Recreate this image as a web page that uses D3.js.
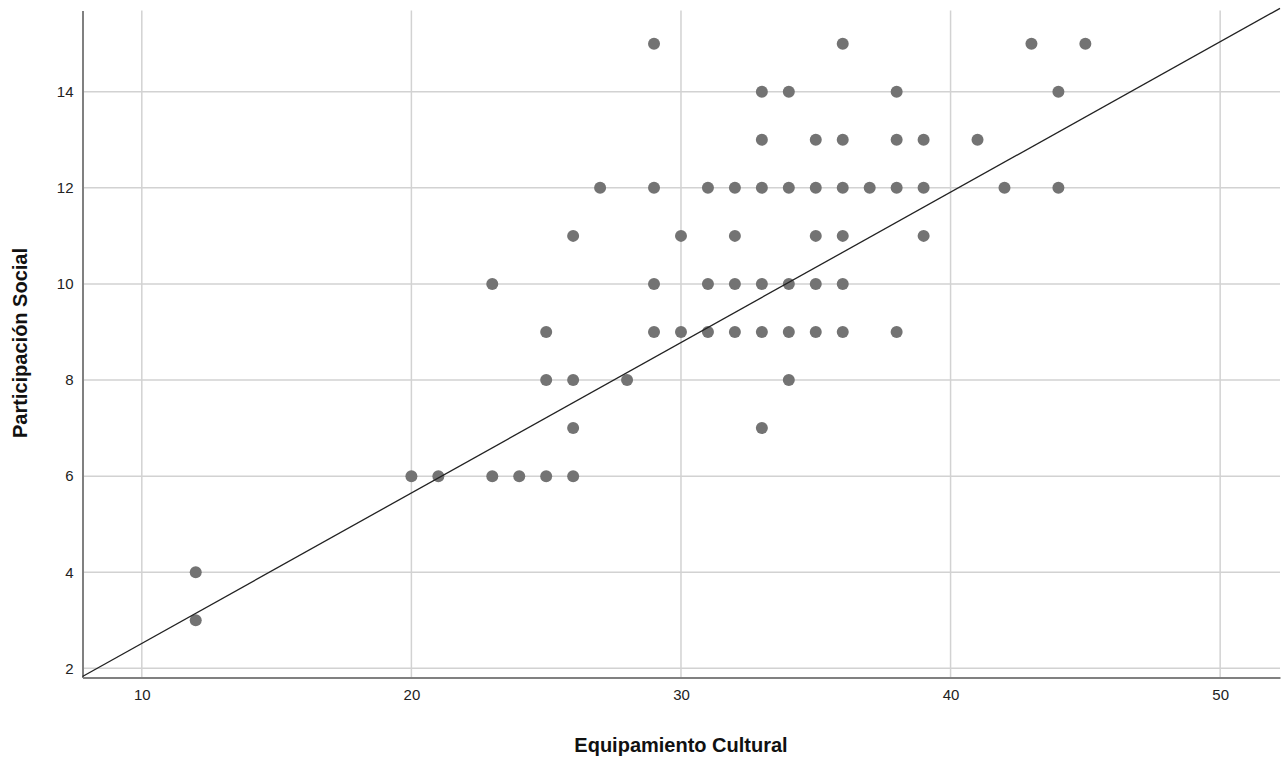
<!DOCTYPE html>
<html><head><meta charset="utf-8">
<script src="https://cdn.jsdelivr.net/npm/d3@7"></script>
<style>body{margin:0;background:#fff}svg{display:block}</style>
</head><body>
<svg id="chart" width="1285" height="758"></svg>
<script>
// Data: x = Equipamiento Cultural, y = Participación Social
const xValues = [29,36,43,45, 33,34,38,44, 33,35,36,38,39,41,
  27,29,31,32,33,34,35,36,37,38,39,42,44,
  26,30,32,35,36,39,
  23,29,31,32,33,34,35,36,
  25,29,30,31,32,33,34,35,36,38,
  25,26,28,34, 26,33, 20,21,23,24,25,26, 12,12];
const yValues = [15,15,15,15, 14,14,14,14, 13,13,13,13,13,13,
  12,12,12,12,12,12,12,12,12,12,12,12,12,
  11,11,11,11,11,11,
  10,10,10,10,10,10,10,10,
  9,9,9,9,9,9,9,9,9,9,
  8,8,8,8, 7,7, 6,6,6,6,6,6, 4,3];
const xTicks = [10,20,30,40,50];
const yTicks = [2,4,6,8,10,12,14];
const fitIntercept = -0.61;
const fitSlope = 0.313;
const xTitle = "Equipamiento Cultural";
const yTitle = "Participación Social";

const svg = d3.select("#chart");
const L = 82.5, R = 1280, T = 10.5, B = 677.5;
const x = d3.scaleLinear().domain([7.8, 52.22]).range([L, R]);
const y = d3.scaleLinear().domain([1.81, 15.69]).range([B, T]);

// grid
svg.append("g").selectAll("line").data(yTicks).join("line")
  .attr("x1", L).attr("x2", R).attr("y1", d => y(d)).attr("y2", d => y(d))
  .attr("stroke", "#d2d2d2").attr("stroke-width", 1.5);
svg.append("g").selectAll("line").data(xTicks).join("line")
  .attr("y1", T).attr("y2", B).attr("x1", d => x(d)).attr("x2", d => x(d))
  .attr("stroke", "#d2d2d2").attr("stroke-width", 1.5);

// axes
const xAxis = svg.append("g").attr("transform", `translate(0,${B})`)
  .call(d3.axisBottom(x).tickValues(xTicks).tickSize(0).tickPadding(12));
const yAxis = svg.append("g").attr("transform", `translate(${L},0)`)
  .call(d3.axisLeft(y).tickValues(yTicks).tickSize(0).tickPadding(9));
[xAxis, yAxis].forEach(a => {
  a.attr("font-size", 15).attr("font-family", "Liberation Sans, Arial, sans-serif");
  a.select(".domain").attr("stroke", "#808080").attr("stroke-width", 2);
  a.selectAll("text").attr("fill", "#222");
});

// points
const pts = xValues.map((v, i) => ({x: v, y: yValues[i]}));
svg.append("g").selectAll("circle").data(pts).join("circle")
  .attr("cx", d => x(d.x)).attr("cy", d => y(d.y)).attr("r", 6)
  .attr("fill", "#737373");

// fit line
const xd = x.domain();
svg.append("line")
  .attr("x1", x(xd[0])).attr("y1", y(fitIntercept + fitSlope * xd[0]))
  .attr("x2", x(xd[1])).attr("y2", y(fitIntercept + fitSlope * xd[1]))
  .attr("stroke", "#222").attr("stroke-width", 1.3);

// titles
svg.append("text").attr("x", 681).attr("y", 752).attr("text-anchor", "middle")
  .attr("font-family", "Liberation Sans, Arial, sans-serif").attr("font-weight", "bold")
  .attr("font-size", 20).attr("fill", "#111").text(xTitle);
svg.append("text").attr("transform", "translate(27,343) rotate(-90)").attr("text-anchor", "middle")
  .attr("font-family", "Liberation Sans, Arial, sans-serif").attr("font-weight", "bold")
  .attr("font-size", 20).attr("fill", "#111").text(yTitle);
</script>
</body></html>
